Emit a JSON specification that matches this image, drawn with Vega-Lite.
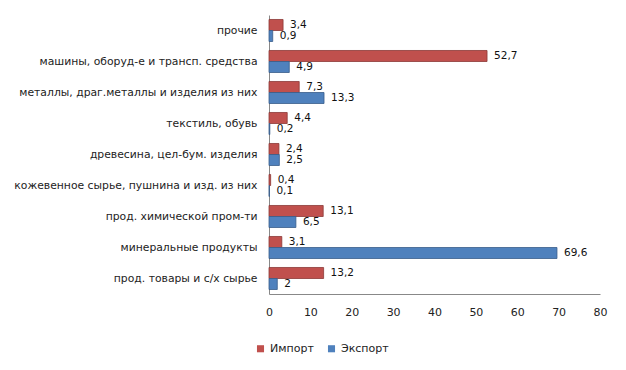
{
  "$schema": "https://vega.github.io/schema/vega-lite/v6.json",
  "width": 331,
  "height": 279,
  "autosize": {"type": "none"},
  "padding": {"left": 269, "top": 15, "right": 26, "bottom": 76},
  "background": "white",
  "config": {
    "view": {"stroke": null},
    "font": "DejaVu Sans",
    "locale": {"number": {"decimal": ",", "thousands": " ", "grouping": [3], "currency": ["", ""]}}
  },
  "data": {
    "values": [
      {"cat": "прочие", "series": "Импорт", "value": 3.4},
      {"cat": "прочие", "series": "Экспорт", "value": 0.9},
      {"cat": "машины, оборуд-е и трансп. средства", "series": "Импорт", "value": 52.7},
      {"cat": "машины, оборуд-е и трансп. средства", "series": "Экспорт", "value": 4.9},
      {"cat": "металлы, драг.металлы и изделия из них", "series": "Импорт", "value": 7.3},
      {"cat": "металлы, драг.металлы и изделия из них", "series": "Экспорт", "value": 13.3},
      {"cat": "текстиль, обувь", "series": "Импорт", "value": 4.4},
      {"cat": "текстиль, обувь", "series": "Экспорт", "value": 0.2},
      {"cat": "древесина, цел-бум. изделия", "series": "Импорт", "value": 2.4},
      {"cat": "древесина, цел-бум. изделия", "series": "Экспорт", "value": 2.5},
      {"cat": "кожевенное сырье, пушнина и изд. из них", "series": "Импорт", "value": 0.4},
      {"cat": "кожевенное сырье, пушнина и изд. из них", "series": "Экспорт", "value": 0.1},
      {"cat": "прод. химической пром-ти", "series": "Импорт", "value": 13.1},
      {"cat": "прод. химической пром-ти", "series": "Экспорт", "value": 6.5},
      {"cat": "минеральные продукты", "series": "Импорт", "value": 3.1},
      {"cat": "минеральные продукты", "series": "Экспорт", "value": 69.6},
      {"cat": "прод. товары и с/х сырье", "series": "Импорт", "value": 13.2},
      {"cat": "прод. товары и с/х сырье", "series": "Экспорт", "value": 2}
    ]
  },
  "encoding": {
    "y": {
      "field": "cat", "type": "nominal", "sort": null, "title": null,
      "scale": {"paddingInner": 0.29, "paddingOuter": 0.145},
      "axis": {"ticks": false, "labelPadding": 12, "labelFontSize": 10.8, "labelColor": "#222", "domainColor": "#888", "labelLimit": 300}
    },
    "yOffset": {"field": "series", "type": "nominal", "sort": ["Импорт", "Экспорт"]},
    "x": {
      "field": "value", "type": "quantitative", "title": null,
      "scale": {"domain": [0, 80], "nice": false},
      "axis": {"values": [0, 10, 20, 30, 40, 50, 60, 70, 80], "grid": false, "ticks": false, "labelPadding": 12, "labelFontSize": 11, "labelColor": "#222", "domainColor": "#888", "labelFlush": false, "format": "d"}
    }
  },
  "layer": [
    {
      "mark": {"type": "bar", "strokeWidth": 0.8},
      "encoding": {
        "color": {
          "field": "series", "type": "nominal", "sort": ["Импорт", "Экспорт"],
          "scale": {"domain": ["Импорт", "Экспорт"], "range": ["#C0504D", "#4F81BD"]},
          "legend": {
            "title": null, "orient": "none", "direction": "horizontal",
            "legendX": -14, "legendY": 328, "symbolType": "square", "symbolSize": 50,
            "labelFontSize": 11, "labelColor": "#222", "columnPadding": 12, "symbolStrokeWidth": 0
          }
        },
        "stroke": {
          "field": "series", "type": "nominal",
          "scale": {"domain": ["Импорт", "Экспорт"], "range": ["#8C3836", "#385D8A"]},
          "legend": null
        }
      }
    },
    {
      "mark": {"type": "text", "align": "left", "dx": 7, "fontSize": 10.5, "color": "#111"},
      "encoding": {"text": {"field": "value", "type": "quantitative"}}
    }
  ]
}
